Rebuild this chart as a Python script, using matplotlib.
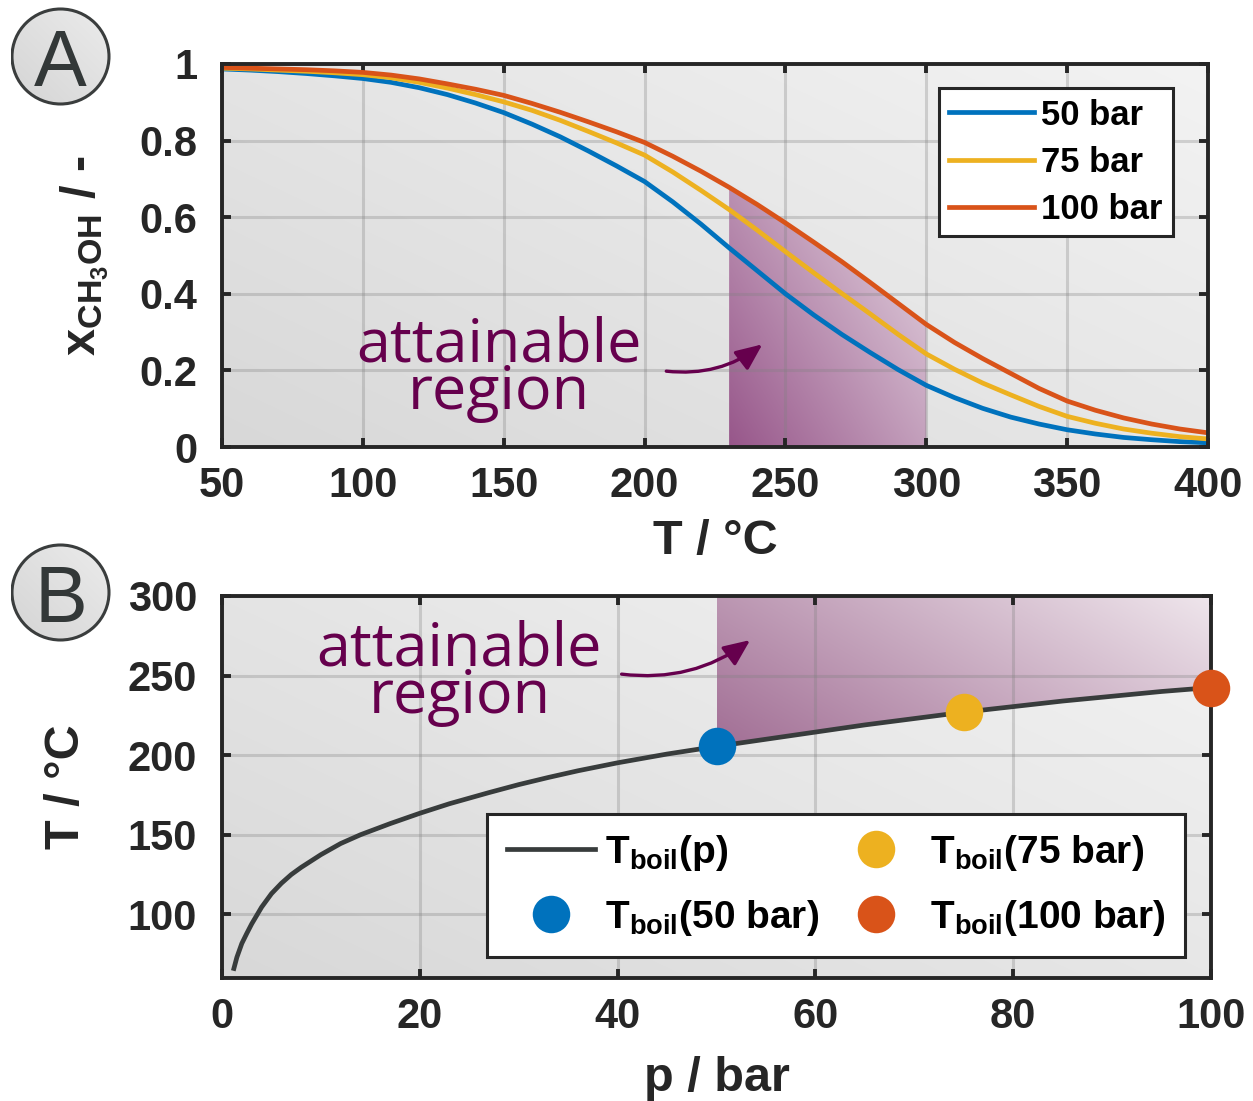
import numpy as np
import matplotlib
matplotlib.use("Agg")
import matplotlib.pyplot as plt
from matplotlib.patches import FancyArrowPatch, Ellipse

# ---------------- data ----------------
T_degC = [50, 60, 70, 80, 90, 100, 110, 120, 130, 140, 150, 160, 170, 180, 190,
          200, 210, 220, 230, 240, 250, 260, 270, 280, 290, 300, 310, 320, 330,
          340, 350, 360, 370, 380, 390, 400]
x_50bar = [0.987, 0.984, 0.980, 0.975, 0.969, 0.962, 0.952, 0.938, 0.920, 0.898,
           0.873, 0.843, 0.810, 0.773, 0.734, 0.693, 0.640, 0.582, 0.520, 0.460,
           0.400, 0.345, 0.294, 0.247, 0.202, 0.161, 0.129, 0.101, 0.078, 0.060,
           0.045, 0.034, 0.025, 0.019, 0.014, 0.011]
x_75bar = [0.989, 0.987, 0.984, 0.981, 0.977, 0.972, 0.964, 0.952, 0.937, 0.920,
           0.901, 0.879, 0.853, 0.824, 0.794, 0.762, 0.718, 0.670, 0.620, 0.566,
           0.510, 0.455, 0.401, 0.348, 0.294, 0.243, 0.203, 0.167, 0.136, 0.106,
           0.080, 0.062, 0.047, 0.036, 0.027, 0.021]
x_100bar = [0.991, 0.989, 0.987, 0.985, 0.982, 0.978, 0.971, 0.961, 0.948, 0.934,
            0.918, 0.897, 0.874, 0.849, 0.823, 0.795, 0.759, 0.720, 0.678, 0.633,
            0.585, 0.535, 0.484, 0.430, 0.375, 0.320, 0.273, 0.231, 0.192, 0.153,
            0.120, 0.096, 0.076, 0.060, 0.047, 0.037]
series_labels = ["50 bar", "75 bar", "100 bar"]
region_T = [230, 300]

p_bar = [1.2, 1.5, 2, 2.5, 3, 4, 5, 6, 7, 8, 10, 12, 14, 17, 20, 23, 27, 30, 33,
         36, 40, 45, 50, 55, 60, 65, 70, 75, 80, 85, 90, 95, 100]
T_boil = [66, 73, 81.7, 88, 94, 104.5, 113, 119.5, 125, 129.5, 137.5, 144.5, 150,
          157, 163.5, 169.5, 176.5, 181.5, 186, 190.2, 195.2, 200.7, 205.5, 210,
          214.5, 219, 223, 227, 230.5, 234, 237, 240, 242.5]
p_points = [50, 75, 100]
T_points = [205.5, 227, 242.5]
point_labels = [r"$T_{boil}$(50 bar)", r"$T_{boil}$(75 bar)", r"$T_{boil}$(100 bar)"]
curve_label = r"$T_{boil}$(p)"

colors = ["#0072BD", "#EDB120", "#D95319"]
purple = "#66004d"
dark = "#262626"

plt.rcParams.update({
    "font.family": ["Liberation Sans", "DejaVu Sans"],
    "font.weight": "bold",
    "mathtext.fontset": "custom",
    "mathtext.rm": "Liberation Sans:bold",
    "mathtext.bf": "Liberation Sans:bold",
    "mathtext.it": "Liberation Sans:bold",
    "mathtext.default": "rm",
    "axes.linewidth": 2.8,
    "axes.edgecolor": dark,
})

fig = plt.figure(figsize=(12.53, 11.01), dpi=100)
ax1 = fig.add_axes([0.1772, 0.5940, 0.7869, 0.3479])
ax2 = fig.add_axes([0.1772, 0.1117, 0.7893, 0.3470])


def bg_gradient(ax, extent):
    n = 256
    U, V = np.meshgrid(np.linspace(0, 1, n), np.linspace(0, 1, n))
    t = 0.55 * U + 0.45 * V
    g = (0xd8 + (0xf3 - 0xd8) * t) / 255.0
    img = np.dstack([g, g, g])
    ax.imshow(img, extent=extent, origin="lower", aspect="auto", zorder=0.1,
              interpolation="bilinear")


def grad_fill(ax, xs, ylo, yhi, extent, c0, c1, wu, wv):
    poly = ax.fill_between(xs, ylo, yhi, facecolor="none", edgecolor="none")
    n = 256
    U, V = np.meshgrid(np.linspace(0, 1, n), np.linspace(0, 1, n))
    t = np.clip(wu * U + wv * V, 0, 1)[..., None]
    c0 = np.array(matplotlib.colors.to_rgb(c0))
    c1 = np.array(matplotlib.colors.to_rgb(c1))
    img = c0 * (1 - t) + c1 * t
    im = ax.imshow(img, extent=extent, origin="lower", aspect="auto", zorder=0.3,
                   interpolation="bilinear")
    im.set_clip_path(poly.get_paths()[0], transform=ax.transData)


def style_axes(ax):
    ax.set_axisbelow(True)
    ax.grid(True, color="#808080", alpha=0.3, linewidth=2.2)
    ax.tick_params(which="both", direction="in", length=6.5, width=2.8,
                   top=True, right=True, colors=dark, labelsize=30,
                   labelcolor=dark)
    ax.tick_params(axis="x", pad=14)
    ax.tick_params(axis="y", pad=18)
    for lab in ax.get_xticklabels() + ax.get_yticklabels():
        lab.set_fontweight("bold")


def region_text(ax, x, y):
    # anchored at the baseline of the last line ("region")
    ax.text(x, y, "attainable\nregion", family="Open Sans", fontsize=44,
            fontweight="normal", color=purple, ha="center", va="baseline",
            multialignment="center", linespacing=0.73, zorder=4)


def region_arrow(ax, start, end):
    ax.add_patch(FancyArrowPatch(start, end, connectionstyle="arc3,rad=0.2",
                                 arrowstyle="-|>,head_length=0.8,head_width=0.35",
                                 mutation_scale=20, lw=2.4, color=purple,
                                 shrinkA=0, shrinkB=0, zorder=4))


# ---------------- panel A ----------------
T_arr = np.array(T_degC)
bg_gradient(ax1, [50, 400, 0, 1])
mask = (T_arr >= region_T[0]) & (T_arr <= region_T[1])
grad_fill(ax1, T_arr[mask], 0, np.array(x_100bar)[mask], [230, 300, 0, 0.7],
          "#97568a", "#e8dce5", 0.55, 0.45)
for ys, c, lab in zip([x_50bar, x_75bar, x_100bar], colors, series_labels):
    ax1.plot(T_degC, ys, color=c, lw=3.4, label=lab, zorder=2,
             solid_joinstyle="round")
ax1.set_xlim(50, 400)
ax1.set_ylim(0, 1)
ax1.set_xticks([50, 100, 150, 200, 250, 300, 350, 400])
ax1.set_yticks([0, 0.2, 0.4, 0.6, 0.8, 1])
ax1.set_yticklabels(["0", "0.2", "0.4", "0.6", "0.8", "1"])
style_axes(ax1)
ax1.set_xlabel("T / °C", fontsize=35, fontweight="bold", color=dark, labelpad=9)
ax1.set_ylabel(r"$x_{CH_3OH}$ / -", fontsize=35, fontweight="bold", color=dark,
               labelpad=20)
leg1 = ax1.legend(loc="upper right", bbox_to_anchor=(0.964, 0.937),
                  borderaxespad=0, fontsize=25, handlelength=2.44,
                  handletextpad=0.2, labelspacing=0.41, borderpad=0.3,
                  fancybox=False, framealpha=1, edgecolor=dark)
leg1.get_frame().set_linewidth(2.2)
for t in leg1.get_texts():
    t.set_color("black")

region_text(ax1, 148.4, 0.0992)
region_arrow(ax1, (207.7, 0.198), (241.8, 0.268))

# ---------------- panel B ----------------
p_arr = np.array(p_bar)
Tb_arr = np.array(T_boil)
bg_gradient(ax2, [0, 100, 60, 300])
m2 = p_arr >= p_points[0]
grad_fill(ax2, p_arr[m2], Tb_arr[m2], 300, [50, 100, 200, 300],
          "#a06c93", "#efe6ec", 0.65, 0.35)
ax2.plot(p_bar, T_boil, color="#383c3c", lw=3.4, zorder=2, label=curve_label,
         solid_joinstyle="round")
for pp, tt, c, lab in zip(p_points, T_points, colors, point_labels):
    ax2.plot([pp], [tt], "o", color=c, ms=27, mew=0, zorder=3, label=lab,
             clip_on=False)
ax2.set_xlim(0, 100)
ax2.set_ylim(60, 300)
ax2.set_xticks([0, 20, 40, 60, 80, 100])
ax2.set_yticks([100, 150, 200, 250, 300])
style_axes(ax2)
ax2.set_xlabel("p / bar", fontsize=35, fontweight="bold", color=dark, labelpad=13)
ax2.set_ylabel("T / °C", fontsize=35, fontweight="bold", color=dark, labelpad=28)
h, l = ax2.get_legend_handles_labels()
leg2 = ax2.legend(h, l, ncol=2, loc="lower right", bbox_to_anchor=(0.974, 0.055),
                  borderaxespad=0, fontsize=28, handlelength=2.27,
                  handletextpad=0.25, labelspacing=0.63, borderpad=0.5,
                  columnspacing=0.35, fancybox=False, framealpha=1,
                  edgecolor=dark)
leg2.get_frame().set_linewidth(2.2)
for t in leg2.get_texts():
    t.set_color("black")

region_text(ax2, 24.0, 226.3)
region_arrow(ax2, (40.4, 250.9), (53.4, 272.3))

# ---------------- panel labels ----------------
W, H = 1253.0, 1101.0


def panel_label(cx, cy, letter):
    d = 100.0
    lax = fig.add_axes([(cx - d / 2) / W, (H - cy - d / 2) / H, d / W, d / H])
    lax.set_xlim(0, 1)
    lax.set_ylim(0, 1)
    lax.axis("off")
    n = 128
    U, V = np.meshgrid(np.linspace(0, 1, n), np.linspace(0, 1, n))
    g = (0xd4 + (0xec - 0xd4) * (0.5 * U + 0.5 * V)) / 255.0
    im = lax.imshow(np.dstack([g, g, g]), extent=[0, 1, 0, 1], origin="lower",
                    aspect="auto", zorder=1)
    circ = Ellipse((0.5, 0.5), 0.97, 0.95, facecolor="none", edgecolor="#3a3d3d",
                   lw=2.2, zorder=2)
    lax.add_patch(circ)
    im.set_clip_path(circ)
    lax.text(0.5, 0.5, letter, fontsize=57, fontweight="normal",
             color="#333838", ha="center", va="center_baseline", zorder=3)


panel_label(60.5, 56.5, "A")
panel_label(60.5, 592.5, "B")

fig.savefig("out.png", dpi=100)
